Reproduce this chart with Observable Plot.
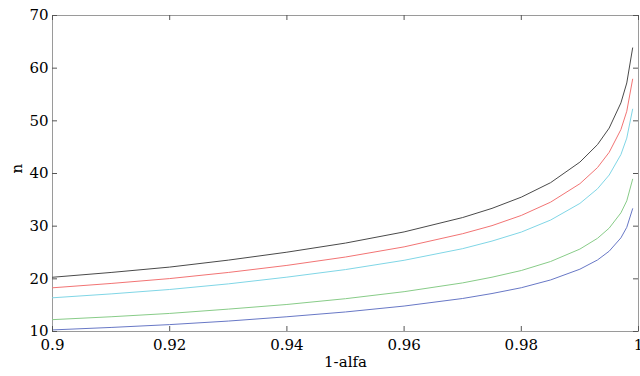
<!DOCTYPE html>
<html>
<head>
<meta charset="utf-8">
<script src="https://cdn.jsdelivr.net/npm/d3@7"></script>
<script src="https://cdn.jsdelivr.net/npm/@observablehq/plot@0.6"></script>
<style>
  html, body { margin: 0; padding: 0; background: #fff; }
  #chart svg { display: block; }
</style>
</head>
<body>
<div id="chart"></div>
<script>
const alpha  = [0.900, 0.910, 0.920, 0.930, 0.940, 0.950, 0.960, 0.970, 0.975, 0.980, 0.985, 0.990, 0.993, 0.995, 0.997, 0.998, 0.999];
const nBlack = [20.30, 21.21, 22.23, 23.55, 25.06, 26.79, 28.91, 31.64, 33.38, 35.51, 38.26, 42.16, 45.48, 48.63, 53.41, 57.19, 63.84];
const nRed   = [18.30, 19.12, 20.05, 21.21, 22.55, 24.14, 26.07, 28.57, 30.10, 32.04, 34.56, 38.06, 41.12, 44.03, 48.35, 51.82, 57.91];
const nCyan  = [16.40, 17.14, 17.98, 19.04, 20.32, 21.76, 23.52, 25.73, 27.17, 28.88, 31.16, 34.32, 37.09, 39.71, 43.60, 46.72, 52.21];
const nGreen = [12.25, 12.80, 13.43, 14.25, 15.13, 16.23, 17.56, 19.23, 20.31, 21.58, 23.29, 25.65, 27.69, 29.63, 32.53, 34.81, 38.91];
const nBlue  = [10.30, 10.77, 11.31, 11.98, 12.80, 13.71, 14.83, 16.27, 17.21, 18.31, 19.79, 21.83, 23.58, 25.25, 27.78, 29.78, 33.31];

const seriesNames  = ["curve 1", "curve 2", "curve 3", "curve 4", "curve 5"];
const seriesValues = [nBlack, nRed, nCyan, nGreen, nBlue];
const seriesColors = ["#4a4a4a", "#f27474", "#80d6e6", "#88cc88", "#6878c6"];

const xTicks = [0.9, 0.92, 0.94, 0.96, 0.98, 1];
const xTickLabels = ["0.9", "0.92", "0.94", "0.96", "0.98", "1"];
const yTicks = [10, 20, 30, 40, 50, 60, 70];
const xLabel = "1-alfa";
const yLabel = "n";

const rows = [];
seriesNames.forEach((s, i) => {
  alpha.forEach((a, j) => rows.push({series: s, x: a, n: seriesValues[i][j]}));
});

const W = 640, H = 376;
const mL = 52, mR = 2, mT = 15, mB = 45;
const innerW = W - mL - mR, innerH = H - mT - mB;
const tickLen = 5;
const font = "DejaVu Serif";
const fs = 15;

const chart = Plot.plot({
  width: W,
  height: H,
  marginLeft: mL,
  marginRight: mR,
  marginTop: mT,
  marginBottom: mB,
  style: {fontFamily: font, fontSize: fs + "px", color: "#000", background: "#fff"},
  x: {domain: [0.9, 1]},
  y: {domain: [10, 70]},
  color: {domain: seriesNames, range: seriesColors},
  marks: [
    Plot.frame({stroke: "#9a9a9a", strokeWidth: 1}),
    Plot.line(rows, {x: "x", y: "n", z: "series", stroke: "series", strokeWidth: 1}),
    Plot.tickX(xTicks, {x: d => d, stroke: "#555", insetTop: innerH - tickLen}),
    Plot.tickX(xTicks, {x: d => d, stroke: "#555", insetBottom: innerH - tickLen}),
    Plot.tickY(yTicks, {y: d => d, stroke: "#555", insetRight: innerW - tickLen}),
    Plot.tickY(yTicks, {y: d => d, stroke: "#555", insetLeft: innerW - tickLen}),
    Plot.axisX({ticks: xTicks, tickFormat: (d, i) => xTickLabels[i], tickSize: 0, tickPadding: 8, label: null, fontSize: fs, fontFamily: font, fill: "#000"}),
    Plot.axisY({ticks: yTicks, tickFormat: d => String(d), tickSize: 0, tickPadding: 4, label: null, fontSize: fs, fontFamily: font, fill: "#000"}),
    Plot.text([xLabel], {frameAnchor: "bottom", text: d => d, dy: 31, fontSize: fs, fontFamily: font, fill: "#000", lineAnchor: "middle"}),
    Plot.text([yLabel], {frameAnchor: "left", text: d => d, dx: -35, rotate: -90, fontSize: fs, fontFamily: font, fill: "#000", lineAnchor: "middle"})
  ]
});

document.getElementById("chart").appendChild(chart);
</script>
</body>
</html>
